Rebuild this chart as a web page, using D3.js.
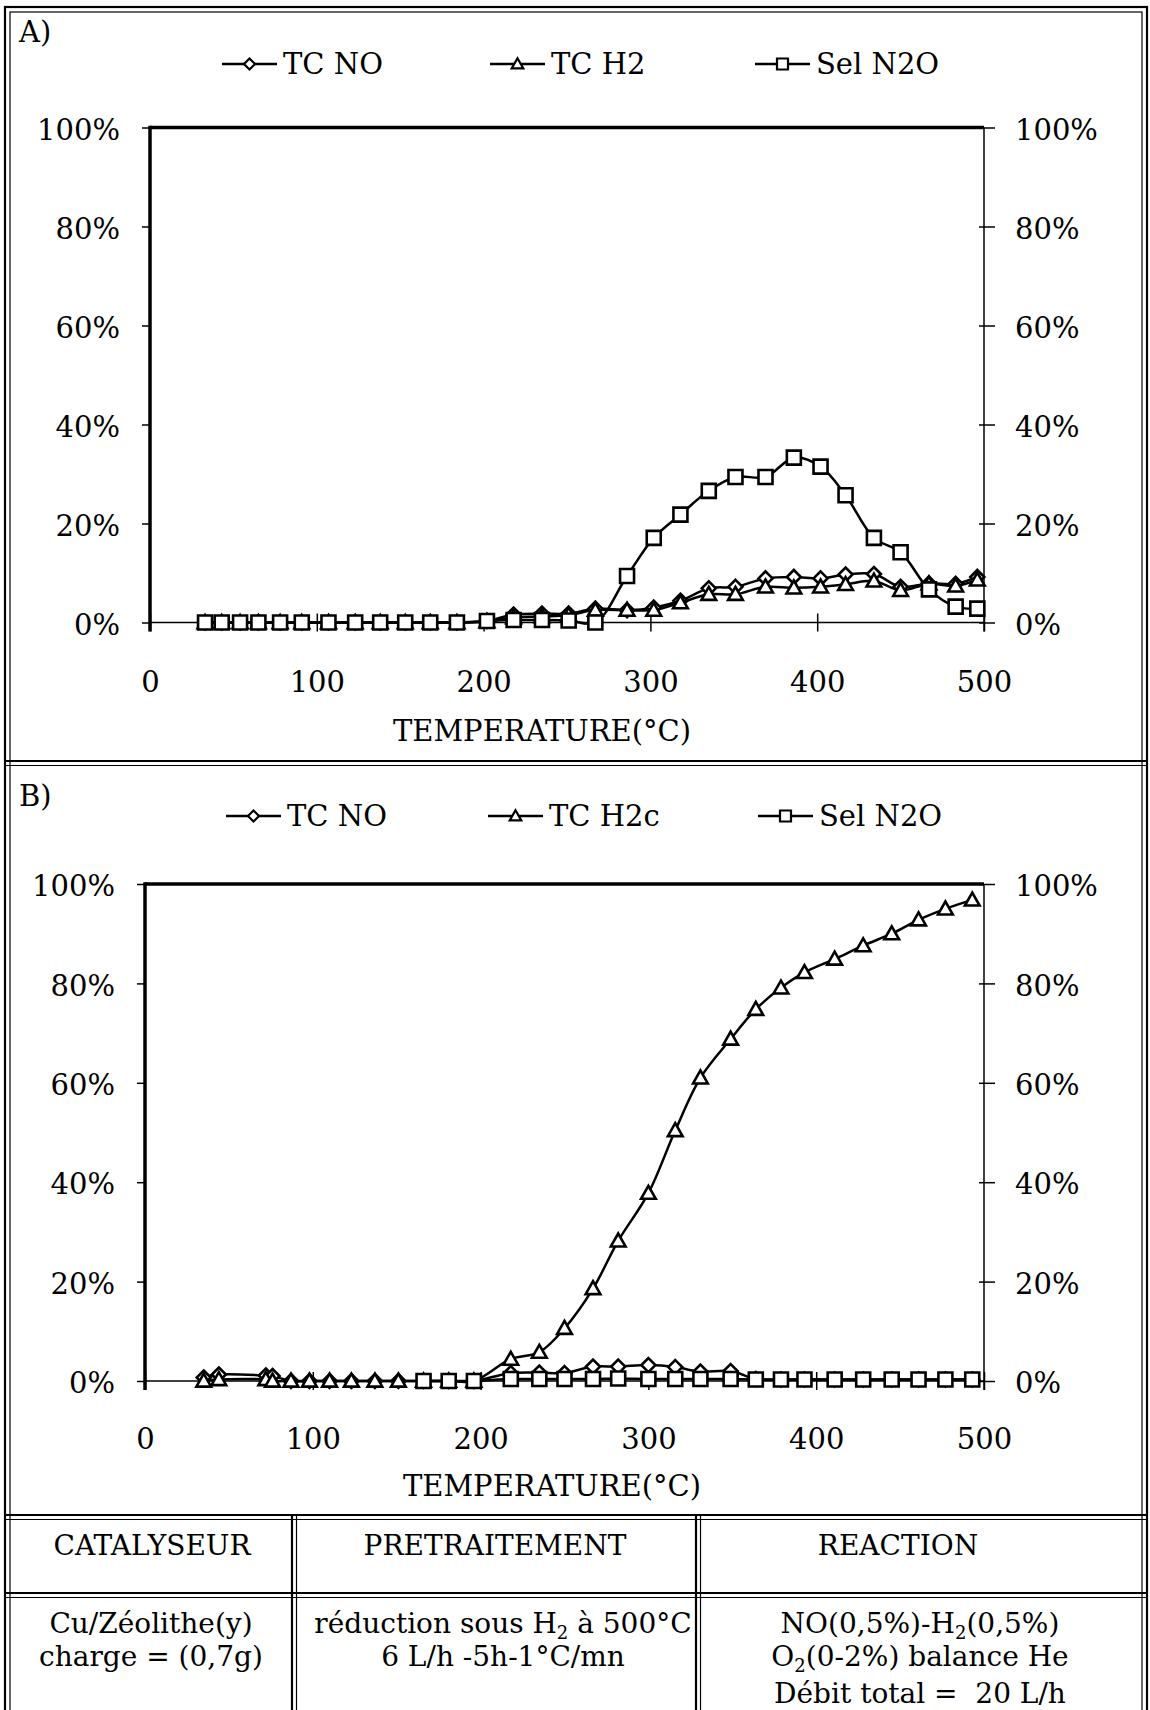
<!doctype html>
<html>

<head>
    <style>
        body {
            margin: 0;
            background: #fff;
        }

        text {
            font-family: "DejaVu Serif", serif;
            fill: #000;
        }
    </style>
    <script src="https://d3js.org/d3.v7.min.js"></script>
</head>

<body>
    <svg width="1150" height="1710"></svg>
    <script>

        // ---- data ----
        var tempA = [33, 43, 54, 65, 78, 91, 107, 123, 138, 153, 168, 184, 202, 218, 235, 251, 267, 286, 302, 318, 335, 351, 369, 386, 402, 417, 434, 450, 467, 483, 496];
        var tcNoA = [0, 0, 0, 0, 0, 0, 0, 0, 0, 0, 0, 0, 0.3, 1.6, 1.8, 1.8, 2.8, 2.5, 3.0, 4.4, 6.9, 7.2, 8.9, 9.2, 8.9, 9.7, 9.8, 7.2, 7.9, 7.8, 9.2];
        var tcH2A = [0, 0, 0, 0, 0, 0, 0, 0, 0, 0, 0, 0, 0.2, 1.0, 1.2, 1.5, 2.5, 2.5, 2.5, 4.0, 5.7, 5.7, 7.2, 7.0, 7.2, 7.7, 8.4, 6.5, 7.8, 7.4, 8.6];
        var selN2oA = [0, 0, 0, 0, 0, 0, 0, 0, 0, 0, 0, 0, 0.3, 0.5, 0.5, 0.4, 0, 9.4, 17.1, 21.8, 26.6, 29.4, 29.4, 33.3, 31.5, 25.7, 17.1, 14.2, 6.7, 3.2, 2.8];

        var tempB = [35, 44, 72, 76, 87, 98, 110, 123, 137, 151, 166, 181, 196, 218, 235, 250, 267, 282, 300, 316, 331, 349, 364, 379, 393, 411, 428, 445, 461, 477, 493];
        var tcNoB = [0.7, 1.3, 1.1, 1.0, 0, 0, 0, 0, 0, 0, 0, 0, 0, 1.6, 1.7, 1.6, 2.9, 2.9, 3.2, 2.8, 1.9, 2.0, 0.4, 0.3, 0.3, 0.3, 0.3, 0.3, 0.3, 0.3, 0.3];
        var tcH2cB = [0, 0.3, 0.3, 0, 0, 0, 0, 0, 0, 0, 0, 0, 0, 4.4, 5.8, 10.6, 18.6, 28.2, 37.8, 50.4, 61.0, 68.8, 74.8, 79.1, 82.2, 84.9, 87.6, 90.0, 92.8, 95.0, 96.8];
        var selN2oB = [null, null, null, null, null, null, null, null, null, null, 0, 0, 0, 0.4, 0.4, 0.4, 0.4, 0.5, 0.4, 0.4, 0.4, 0.4, 0.3, 0.3, 0.3, 0.3, 0.3, 0.3, 0.3, 0.3, 0.3];

        var xTicks = [0, 100, 200, 300, 400, 500];
        var yTicks = [0, 20, 40, 60, 80, 100];
        var legendA = ["TC NO", "TC H2", "Sel N2O"];
        var legendB = ["TC NO", "TC H2c", "Sel N2O"];
        var markers = ["diamond", "triangle", "square"];
        var xTitle = "TEMPERATURE(°C)";

        var svg = d3.select("svg");

        function markerPath(type, r) {
            if (type == "square") return "M" + (-r) + "," + (-r) + "H" + r + "V" + r + "H" + (-r) + "Z";
            if (type == "triangle") return "M0," + (-r * 1.05) + "L" + (r * 1.05) + "," + (r * 0.8) + "H" + (-r * 1.05) + "Z";
            return "M0," + (-r) + "L" + r + ",0L0," + r + "L" + (-r) + ",0Z";
        }

        function styleAxis(a) {
            a.attr("font-family", null).attr("font-size", 29);
            a.select(".domain").remove();
            a.selectAll(".tick line").attr("stroke", "#000").attr("stroke-width", 1.5);
            a.selectAll(".tick text").attr("fill", "#000");
        }

        function drawPanel(p) {
            var x = d3.scaleLinear().domain([0, 500]).range([p.x0, p.x1]);
            var y = d3.scaleLinear().domain([0, 100]).range([p.yBot, p.yTop]);
            var g = svg.append("g");

            var left = g.append("g")
                .attr("transform", "translate(" + p.x0 + ",0)")
                .call(d3.axisLeft(y).tickValues(yTicks).tickSize(8).tickSizeOuter(0).tickPadding(22).tickFormat(d => d + "%"));
            styleAxis(left);
            left.selectAll(".tick text").attr("dy", "0.4em");

            var right = g.append("g")
                .attr("transform", "translate(" + p.x1 + ",0)")
                .call(d3.axisRight(y).tickValues(yTicks).tickSize(11).tickSizeOuter(0).tickPadding(20).tickFormat(d => d + "%"));
            styleAxis(right);
            right.selectAll(".tick line").attr("x1", -5);
            right.selectAll(".tick text").attr("dy", "0.4em");

            var bottom = g.append("g")
                .attr("transform", "translate(0," + p.yBot + ")")
                .call(d3.axisBottom(x).tickValues(xTicks).tickSize(9).tickSizeOuter(0).tickPadding(p.xPad));
            styleAxis(bottom);
            bottom.selectAll(".tick line").attr("y1", -9);

            // frame of the plot: thick left and top, thin right and bottom
            g.append("line").attr("x1", p.x0).attr("x2", p.x1).attr("y1", p.yBot).attr("y2", p.yBot)
                .attr("stroke", "#000").attr("stroke-width", 1.6);
            g.append("line").attr("x1", p.x1).attr("x2", p.x1).attr("y1", p.yTop).attr("y2", p.yBot + 9)
                .attr("stroke", "#000").attr("stroke-width", 1.5);
            g.append("line").attr("x1", p.x0).attr("x2", p.x1).attr("y1", p.yTop).attr("y2", p.yTop)
                .attr("stroke", "#000").attr("stroke-width", 3.5);
            g.append("line").attr("x1", p.x0).attr("x2", p.x0).attr("y1", p.yTop - 1.7).attr("y2", p.yBot + 9)
                .attr("stroke", "#000").attr("stroke-width", 3.5);

            // series
            var line = d3.line()
                .defined(d => d.v != null)
                .x(d => x(d.t))
                .y(d => y(d.v))
                .curve(d3.curveCatmullRom.alpha(0.5));

            p.series.forEach(function (vals, i) {
                var pts = p.temps.map((t, k) => ({ t: t, v: vals[k] }));
                g.append("path")
                    .datum(pts)
                    .attr("d", line)
                    .attr("fill", "none")
                    .attr("stroke", "#000")
                    .attr("stroke-width", 2.5);
                g.selectAll(null)
                    .data(pts.filter(d => d.v != null))
                    .enter().append("path")
                    .attr("transform", d => "translate(" + x(d.t) + "," + y(d.v) + ")")
                    .attr("d", markerPath(markers[i], 7))
                    .attr("fill", "#fff")
                    .attr("stroke", "#000")
                    .attr("stroke-width", 2.6);
            });

            // legend
            p.legend.forEach(function (name, i) {
                var lx = p.legendX[i];
                g.append("line").attr("x1", lx).attr("x2", lx + 55)
                    .attr("y1", p.legendY).attr("y2", p.legendY)
                    .attr("stroke", "#000").attr("stroke-width", 2.5);
                g.append("path")
                    .attr("transform", "translate(" + (lx + 27.5) + "," + p.legendY + ")")
                    .attr("d", markerPath(markers[i], 5.5))
                    .attr("fill", "#fff").attr("stroke", "#000").attr("stroke-width", 2.2);
                g.append("text").attr("x", lx + 61).attr("y", p.legendY + 10)
                    .attr("font-size", 29).text(name);
            });

            g.append("text").attr("x", 19).attr("y", p.labelY)
                .attr("font-size", 29).text(p.label);

            g.append("text").attr("x", p.titleX).attr("y", p.titleY)
                .attr("text-anchor", "middle").attr("font-size", 29).text(xTitle);
        }

        drawPanel({
            x0: 150, x1: 984, yTop: 127.5, yBot: 622.5, xPad: 40,
            temps: tempA, series: [tcNoA, tcH2A, selN2oA],
            legend: legendA, legendX: [222, 490, 755], legendY: 64,
            label: "A)", labelY: 42, titleX: 542, titleY: 741
        });

        drawPanel({
            x0: 145, x1: 984, yTop: 884, yBot: 1381, xPad: 38,
            temps: tempB, series: [tcNoB, tcH2cB, selN2oB],
            legend: legendB, legendX: [226, 488, 758], legendY: 816,
            label: "B)", labelY: 806, titleX: 552, titleY: 1496
        });

        // ---- double rules: outer frame, panel dividers, table ----
        function hDouble(y, x1, x2) {
            svg.append("line").attr("x1", x1).attr("x2", x2).attr("y1", y).attr("y2", y)
                .attr("stroke", "#000").attr("stroke-width", 2.2);
            svg.append("line").attr("x1", x1).attr("x2", x2).attr("y1", y + 4.5).attr("y2", y + 4.5)
                .attr("stroke", "#000").attr("stroke-width", 1.2);
        }
        function vDouble(x, y1, y2) {
            svg.append("line").attr("x1", x).attr("x2", x).attr("y1", y1).attr("y2", y2)
                .attr("stroke", "#000").attr("stroke-width", 2.2);
            svg.append("line").attr("x1", x + 4.5).attr("x2", x + 4.5).attr("y1", y1).attr("y2", y2)
                .attr("stroke", "#000").attr("stroke-width", 1.2);
        }

        svg.append("rect").attr("x", 5).attr("y", 7).attr("width", 1142).attr("height", 1720)
            .attr("fill", "none").attr("stroke", "#000").attr("stroke-width", 2.2);
        svg.append("rect").attr("x", 10).attr("y", 12).attr("width", 1132).attr("height", 1710)
            .attr("fill", "none").attr("stroke", "#000").attr("stroke-width", 1.2);
        hDouble(761, 5, 1147);
        hDouble(1515, 5, 1147);
        hDouble(1593, 5, 1147);
        vDouble(292, 1515, 1712);
        vDouble(696, 1515, 1712);

        // ---- table ----
        var headers = ["CATALYSEUR", "PRETRAITEMENT", "REACTION"];
        var headerX = [152, 495, 898];
        headers.forEach(function (h, i) {
            svg.append("text").attr("x", headerX[i]).attr("y", 1555)
                .attr("text-anchor", "middle").attr("font-size", 28).text(h);
        });

        // each cell line: list of [text, isSubscript]
        var cells = [
            { x: 151, lines: [[["Cu/Zéolithe(y)", 0]], [["charge = (0,7g)", 0]]] },
            { x: 503, lines: [[["réduction sous H", 0], ["2", 1], [" à 500°C", 0]], [["6 L/h -5h-1°C/mn", 0]]] },
            { x: 920, lines: [[["NO(0,5%)-H", 0], ["2", 1], ["(0,5%)", 0]], [["O", 0], ["2", 1], ["(0-2%) balance He", 0]], [["Débit total =  20 L/h", 0]]] }
        ];
        var lineY = [1633, 1666, 1703];

        cells.forEach(function (c) {
            c.lines.forEach(function (parts, li) {
                var t = svg.append("text").attr("x", c.x).attr("y", lineY[li])
                    .attr("text-anchor", "middle").attr("font-size", 28)
                    .attr("xml:space", "preserve");
                var prevSub = 0;
                parts.forEach(function (pt) {
                    var dy = pt[1] ? 6 : (prevSub ? -6 : 0);
                    t.append("tspan").attr("dy", dy)
                        .attr("font-size", pt[1] ? 18 : 28)
                        .text(pt[0]);
                    prevSub = pt[1];
                });
            });
        });

    </script>
</body>

</html>
